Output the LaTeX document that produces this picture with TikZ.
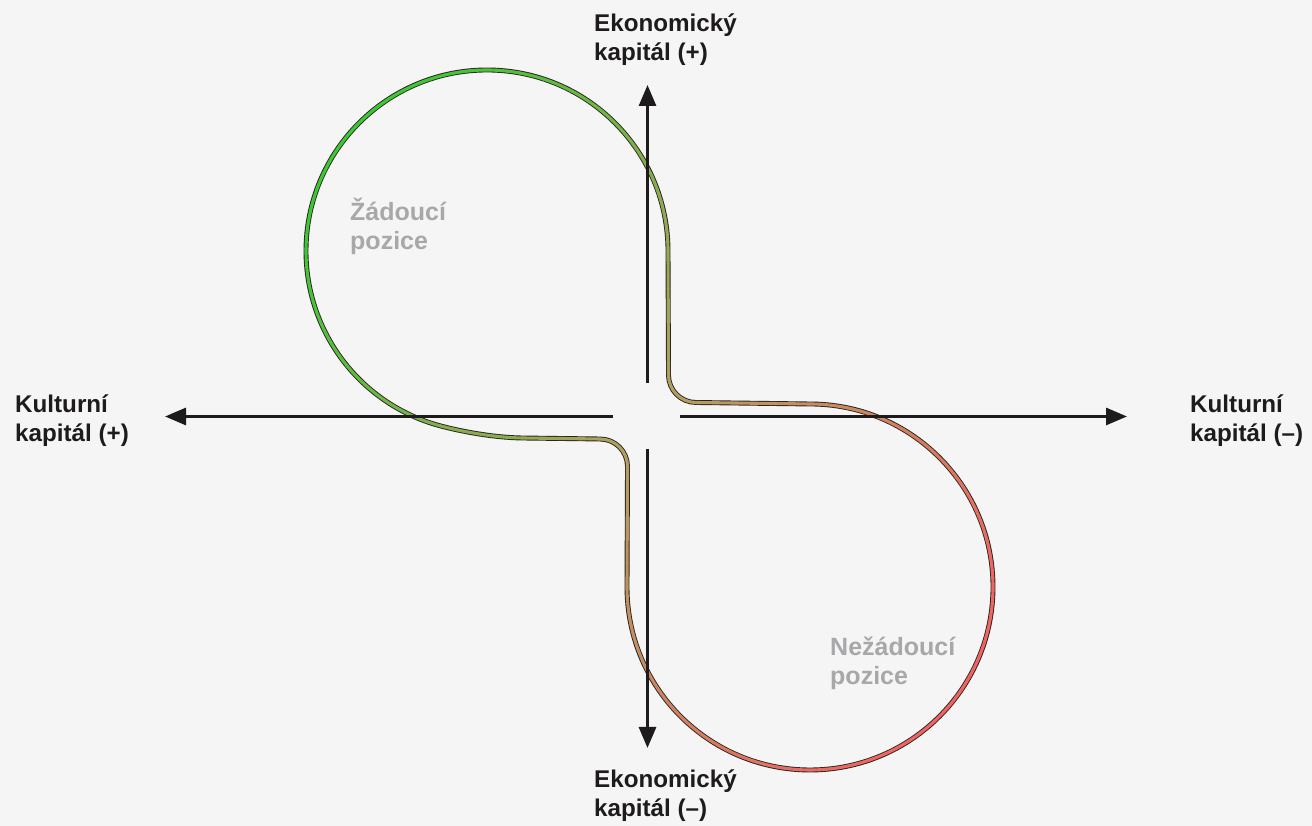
\documentclass[tikz,border=0pt]{standalone}
\usepackage{fontspec}
\setmainfont{Liberation Sans}
\usetikzlibrary{arrows.meta}
\definecolor{bg}{HTML}{F5F5F5}
\definecolor{ink}{HTML}{1E1B1C}
\definecolor{greytxt}{HTML}{A8A8AA}
\definecolor{gA}{RGB}{58,200,52}
\definecolor{gM}{RGB}{178,158,96}
\definecolor{gR}{RGB}{242,98,98}
\definecolor{tubedarkc}{HTML}{2A2420}
\newcommand\setcurvecol[2]{%
  \pgfmathsetmacro\ctv{max(0,min(1,(0.65*((#1)-330)-0.47*((#2)-640))/643.4))}%
  \pgfmathsetmacro\cpp{\ctv<0.5 ? 100*(1-2*\ctv) : 100*(2-2*\ctv)}%
  \ifdim\ctv pt<0.5pt \colorlet{cc}{gA!\cpp!gM}\else\colorlet{cc}{gM!\cpp!gR}\fi}
\newcommand\colline[5]{%
  \foreach \i in {1,...,#5}{%
    \pgfmathsetmacro\xa{#1+(#3-#1)/#5*(\i-1)}%
    \pgfmathsetmacro\ya{#2+(#4-#2)/#5*(\i-1)}%
    \pgfmathsetmacro\xb{#1+(#3-#1)/#5*\i}%
    \pgfmathsetmacro\yb{#2+(#4-#2)/#5*\i}%
    \setcurvecol{(\xa+\xb)/2}{(\ya+\yb)/2}%
    \draw[tube,color=cc] (\xa,\ya) -- (\xb,\yb);
  }}
\newcommand\colarc[6]{%
  \foreach \i in {1,...,#6}{%
    \pgfmathsetmacro\aa{#4+(#5-#4)/#6*(\i-1)}%
    \pgfmathsetmacro\ab{#4+(#5-#4)/#6*\i}%
    \pgfmathsetmacro\am{(\aa+\ab)/2}%
    \pgfmathsetmacro\xa{#1+#3*cos(\aa)}%
    \pgfmathsetmacro\ya{#2+#3*sin(\aa)}%
    \pgfmathsetmacro\xm{#1+#3*cos(\am)}%
    \pgfmathsetmacro\ym{#2+#3*sin(\am)}%
    \setcurvecol{\xm}{\ym}%
    \draw[tube,color=cc] (\xa,\ya) arc[start angle=\aa, end angle=\ab, radius=#3pt];
  }}
\tikzset{
  tube/.style={line width=3.1pt, line cap=round},
  tubedark/.style={line width=4.9pt, draw=tubedarkc, line join=round},
  axis/.style={line width=3pt, draw=ink, -{Triangle[length=21pt,width=17pt]}},
  axlabel/.style={font=\fontsize{24.2}{29.5}\selectfont\bfseries, text=ink, align=left, anchor=base west, inner sep=0pt},
  poslabel/.style={font=\fontsize{25}{29}\selectfont\bfseries, text=greytxt, align=left, anchor=base west, inner sep=0pt}
}
\begin{document}
\begin{tikzpicture}[x=1pt,y=1pt]
\fill[bg] (0,0) rectangle (1312,826);
\useasboundingbox (0,0) rectangle (1312,826);
% dark underlay of the loop
\draw[tubedark] (668,575) arc[start angle=0,end angle=255,radius=181pt]
  .. controls (459.5,395) and (492,388.5) .. (522,388) -- (600,387)
  arc[start angle=90,end angle=0,radius=27.5pt] -- (627,239)
  arc[start angle=180,end angle=450,radius=183pt] -- (696,423.5)
  arc[start angle=270,end angle=180,radius=27.5pt] -- cycle;
% coloured loop
\colarc{487}{575}{181}{0}{255}{64}
\setcurvecol{481}{392}
\draw[tube,color=cc] (440.15,400.17) .. controls (459.5,395) and (492,388.5) .. (522,388);
\colline{522}{388}{600}{387}{8}
\colarc{600}{359.5}{27.5}{90}{0}{4}
\colline{627.5}{359.5}{627}{239}{10}
\colarc{810}{239}{183}{180}{450}{68}
\colline{810}{422}{696}{423.5}{10}
\colarc{696}{451}{27.5}{270}{180}{4}
\colline{668.5}{451}{668}{575}{10}
% axes
\coordinate (hL0) at (613,409.5);
\coordinate (hL1) at (165,409.5);
\coordinate (hR0) at (680,409.5);
\coordinate (hR1) at (1127,409.5);
\coordinate (vT0) at (647.5,443);
\coordinate (vT1) at (647.5,741);
\coordinate (vB0) at (647.5,377);
\coordinate (vB1) at (647.5,78);
\draw[axis] (hL0) -- (hL1);
\draw[axis] (hR0) -- (hR1);
\draw[axis] (vT0) -- (vT1);
\draw[axis] (vB0) -- (vB1);
% labels (anchor = baseline of the last line)
\node[axlabel] (ekplus) at (594,765) {Ekonomický\\kapitál (+)};
\node[axlabel] (ekminus) at (594,9) {Ekonomický\\kapitál (–)};
\node[axlabel] (kuplus) at (15,384) {Kulturní\\kapitál (+)};
\node[axlabel] (kuminus) at (1190,384) {Kulturní\\kapitál (–)};
\node[poslabel] (zad) at (350,576) {Žádoucí\\pozice};
\node[poslabel] (nezad) at (830,141) {Nežádoucí\\pozice};
\end{tikzpicture}
\end{document}
